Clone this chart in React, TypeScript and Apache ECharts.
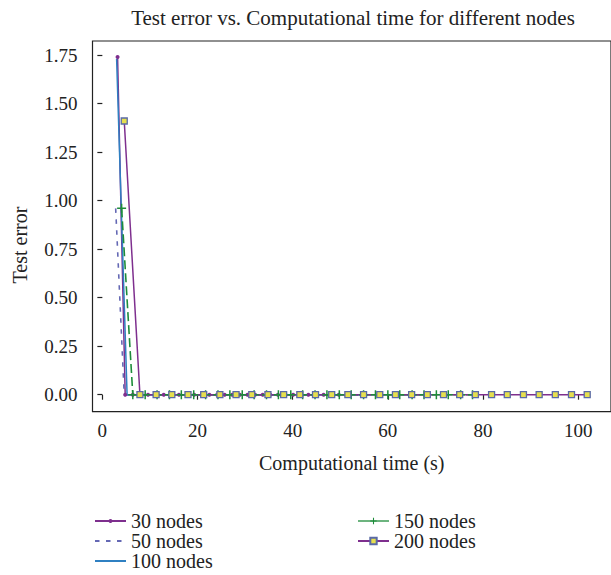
import React, { useEffect, useRef } from "react";
import * as echarts from "echarts";

// Computational time (s) per epoch for each network size
const time30 = [3.2, 4.8, 6.4, 8.0, 9.6, 11.3, 12.9, 14.5, 16.1, 17.7, 19.3, 20.9, 22.5, 24.1, 25.7, 27.3, 28.9, 30.5, 32.1, 33.7, 35.3, 36.9, 38.5, 40.1, 41.7, 43.3, 44.9, 46.5, 48.1, 49.7];
const error30 = [1.74, 0, 0, 0, 0, 0, 0, 0, 0, 0, 0, 0, 0, 0, 0, 0, 0, 0, 0, 0, 0, 0, 0, 0, 0, 0, 0, 0, 0, 0];

const time50 = [2.8, 4.6, 6.4, 8.2, 10.0, 11.8, 13.6, 15.4, 17.2, 19.0, 20.8, 22.6, 24.4, 26.2, 28.0, 29.8, 31.6, 33.4, 35.2, 37.0, 38.8, 40.6, 42.4, 44.2, 46.0, 47.8, 49.6, 51.4, 53.2, 55.0];
const error50 = [0.96, 0, 0, 0, 0, 0, 0, 0, 0, 0, 0, 0, 0, 0, 0, 0, 0, 0, 0, 0, 0, 0, 0, 0, 0, 0, 0, 0, 0, 0];

const time100 = [3.0, 5.2, 7.4, 9.6, 11.8, 14.0, 16.2, 18.4, 20.6, 22.8, 25.0, 27.2, 29.4, 31.6, 33.8, 36.0, 38.2, 40.4, 42.6, 44.8, 47.0, 49.2, 51.4, 53.6, 55.8, 58.0, 60.2, 62.4, 64.6, 66.8];
const error100 = [1.73, 0, 0, 0, 0, 0, 0, 0, 0, 0, 0, 0, 0, 0, 0, 0, 0, 0, 0, 0, 0, 0, 0, 0, 0, 0, 0, 0, 0, 0];

const time150 = [4.05, 6.4, 9.0, 11.5, 14.1, 16.6, 19.2, 21.7, 24.3, 26.8, 29.4, 31.9, 34.5, 37.0, 39.6, 42.1, 44.7, 47.2, 49.8, 52.3, 54.9, 57.4, 60.0, 62.5, 65.1, 67.6, 70.2, 72.7, 75.3, 77.8];
const error150 = [0.96, 0, 0, 0, 0, 0, 0, 0, 0, 0, 0, 0, 0, 0, 0, 0, 0, 0, 0, 0, 0, 0, 0, 0, 0, 0, 0, 0, 0, 0];

const time200 = [4.6, 7.9, 11.3, 14.6, 18.0, 21.3, 24.7, 28.1, 31.4, 34.8, 38.1, 41.5, 44.8, 48.2, 51.6, 54.9, 58.3, 61.6, 65.0, 68.3, 71.7, 75.1, 78.4, 81.8, 85.1, 88.5, 91.8, 95.2, 98.6, 101.9];
const error200 = [1.41, 0, 0, 0, 0, 0, 0, 0, 0, 0, 0, 0, 0, 0, 0, 0, 0, 0, 0, 0, 0, 0, 0, 0, 0, 0, 0, 0, 0, 0];

const xTicks = [0, 20, 40, 60, 80, 100];
const yTicks = [0, 0.25, 0.5, 0.75, 1.0, 1.25, 1.5, 1.75];

const titleText = "Test error vs. Computational time for different nodes";
const xName = "Computational time (s)";
const yName = "Test error";

const FONT = "'Liberation Serif', 'DejaVu Serif', serif";
const INK = "#222";
const PURPLE = "#7e2f8e";
const SLATE = "#6468b4";
const BLUE = "#2f80c2";
const GREEN = "#1e8c3a";

const PLUS = "path://M5,0H7V5H12V7H7V12H5V7H0V5H5Z";

const pairs = (xs: number[], ys: number[]) => xs.map((x, i) => [x, ys[i]]);

export default function App() {
  const ref = useRef<HTMLDivElement>(null);

  useEffect(() => {
    if (!ref.current) return;
    const chart = echarts.init(ref.current, undefined, { renderer: "svg" });

    const legendText = { fontFamily: FONT, fontSize: 20, color: INK };

    chart.setOption({
      animation: false,
      backgroundColor: "#fff",
      grid: {
        left: 92.5,
        right: -9,
        top: 41,
        bottom: 163.3,
        show: true,
        borderColor: INK,
        borderWidth: 1.2,
        backgroundColor: "transparent",
      },
      xAxis: {
        type: "value",
        min: -2.07,
        max: 106.9,
        name: xName,
        nameLocation: "middle",
        nameGap: 41,
        nameTextStyle: { fontFamily: FONT, fontSize: 20, color: INK },
        axisLine: { show: false },
        axisTick: { show: true, length: 5, customValues: xTicks, lineStyle: { color: INK, width: 1.2 } },
        axisLabel: { customValues: xTicks, fontFamily: FONT, fontSize: 19, color: INK, margin: 9 },
        splitLine: { show: false },
      },
      yAxis: {
        type: "value",
        min: -0.0876,
        max: 1.8222,
        axisLine: { show: false },
        axisTick: { show: true, length: 5, customValues: yTicks, lineStyle: { color: INK, width: 1.2 } },
        axisLabel: {
          customValues: yTicks,
          fontFamily: FONT,
          fontSize: 19,
          color: INK,
          margin: 15,
          formatter: (v: number) => v.toFixed(2),
        },
        splitLine: { show: false },
      },
      legend: [
        {
          data: ["30 nodes", "50 nodes", "100 nodes"],
          orient: "vertical",
          left: 94,
          top: 511,
          padding: 0,
          itemWidth: 31,
          itemHeight: 5,
          itemGap: 0,
          textStyle: legendText,
        },
        {
          data: [
            { name: "150 nodes", lineStyle: { type: "solid", width: 1.3 } },
            "200 nodes",
          ],
          orient: "vertical",
          left: 357,
          top: 511,
          padding: 0,
          itemWidth: 31,
          itemHeight: 8,
          itemGap: 0,
          textStyle: legendText,
        },
      ],
      graphic: [
        {
          type: "text",
          x: 353,
          y: 18,
          style: { text: titleText, fontFamily: FONT, fontSize: 21, fill: INK, align: "center", verticalAlign: "middle" },
        },
        {
          type: "text",
          x: 19.5,
          y: 245,
          rotation: Math.PI / 2,
          style: { text: yName, fontFamily: FONT, fontSize: 20, fill: INK, align: "center", verticalAlign: "middle" },
        },
      ],
      series: [
        {
          name: "30 nodes",
          type: "line",
          data: pairs(time30, error30),
          symbol: "circle",
          symbolSize: 4,
          showAllSymbol: true,
          lineStyle: { color: PURPLE, width: 1.5 },
          itemStyle: { color: PURPLE },
        },
        {
          name: "50 nodes",
          type: "line",
          data: pairs(time50, error50),
          symbol: "none",
          lineStyle: { color: SLATE, width: 1.6, type: [4.5, 6.5] },
          itemStyle: { color: SLATE, opacity: 0 },
        },
        {
          name: "100 nodes",
          type: "line",
          data: pairs(time100, error100),
          symbol: "none",
          lineStyle: { color: BLUE, width: 1.5 },
          itemStyle: { color: BLUE, opacity: 0 },
        },
        {
          name: "150 nodes",
          type: "line",
          data: pairs(time150, error150),
          symbol: PLUS,
          symbolSize: 9,
          showAllSymbol: true,
          lineStyle: { color: GREEN, width: 1.6, type: [9, 4] },
          itemStyle: { color: GREEN },
        },
        {
          name: "200 nodes",
          type: "line",
          data: pairs(time200, error200),
          symbol: "rect",
          symbolSize: 6,
          showAllSymbol: true,
          lineStyle: { color: PURPLE, width: 1.5 },
          itemStyle: { color: "#e6df4f", borderColor: "#5a6aa6", borderWidth: 1.3 },
        },
      ],
    });

    return () => chart.dispose();
  }, []);

  return (
    <div
      ref={ref}
      style={{ position: "fixed", left: 0, top: 0, width: 611, height: 575, background: "#fff" }}
    />
  );
}
